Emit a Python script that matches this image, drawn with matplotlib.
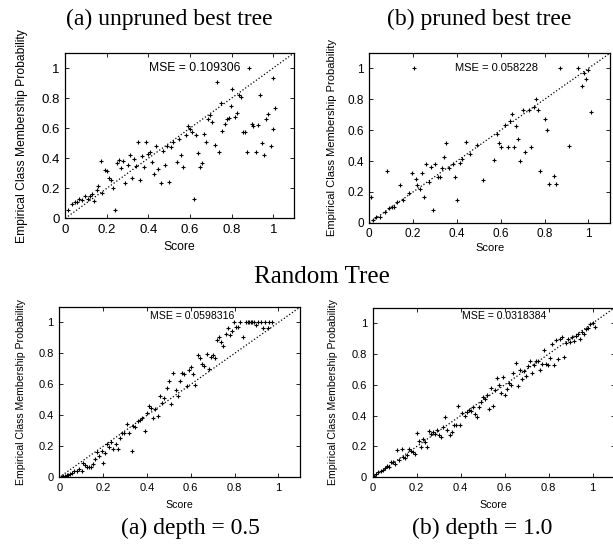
import matplotlib
matplotlib.use("Agg")
import matplotlib.pyplot as plt
from matplotlib.ticker import FixedLocator, FixedFormatter

plt.rcParams['font.family'] = ['Liberation Sans', 'DejaVu Sans']

# (a) unpruned best tree
score_a = [0.011, 0.03, 0.046, 0.058, 0.067, 0.082, 0.095, 0.107, 0.119, 0.13, 0.139, 0.151,
           0.159, 0.17, 0.178, 0.191, 0.199, 0.21, 0.22, 0.231, 0.239, 0.25, 0.258, 0.268,
           0.279, 0.288, 0.3, 0.311, 0.321, 0.33, 0.34, 0.349, 0.359, 0.37, 0.38, 0.388,
           0.396, 0.407, 0.418, 0.428, 0.438, 0.447, 0.458, 0.468, 0.478, 0.487, 0.498, 0.508,
           0.519, 0.538, 0.546, 0.558, 0.567, 0.579, 0.588, 0.599, 0.609, 0.619, 0.628, 0.638,
           0.647, 0.659, 0.668, 0.678, 0.688, 0.696, 0.707, 0.718, 0.728, 0.737, 0.747, 0.756,
           0.768, 0.777, 0.787, 0.796, 0.804, 0.814, 0.824, 0.835, 0.845, 0.856, 0.865, 0.875,
           0.885, 0.896, 0.905, 0.917, 0.926, 0.936, 0.946, 0.957, 0.966, 0.976, 0.987, 0.997,
           1.0, 1.008]
prob_a = [0.056, 0.097, 0.11, 0.106, 0.128, 0.119, 0.146, 0.128, 0.151, 0.164, 0.115, 0.191,
          0.213, 0.382, 0.169, 0.321, 0.317, 0.27, 0.258, 0.202, 0.056, 0.371, 0.389, 0.337,
          0.382, 0.236, 0.357, 0.422, 0.27, 0.393, 0.348, 0.506, 0.254, 0.416, 0.344, 0.506,
          0.427, 0.438, 0.375, 0.297, 0.483, 0.326, 0.236, 0.449, 0.353, 0.483, 0.243, 0.472,
          0.506, 0.375, 0.528, 0.422, 0.342, 0.555, 0.613, 0.596, 0.573, 0.128, 0.551, 0.434,
          0.344, 0.366, 0.562, 0.506, 0.663, 0.685, 0.64, 0.488, 0.91, 0.438, 0.764, 0.578,
          0.629, 0.663, 0.667, 0.748, 0.861, 0.674, 0.703, 0.82, 0.809, 0.573, 0.573, 0.438,
          1.0, 0.629, 0.613, 0.438, 0.618, 0.82, 0.501, 0.42, 0.663, 0.697, 0.483, 0.591,
          0.933, 0.735]

# (b) pruned best tree
score_b = [0.006, 0.018, 0.03, 0.049, 0.071, 0.082, 0.091, 0.102, 0.112, 0.125, 0.14, 0.152,
           0.182, 0.193, 0.204, 0.211, 0.22, 0.231, 0.242, 0.251, 0.261, 0.271, 0.281, 0.292,
           0.302, 0.312, 0.322, 0.333, 0.342, 0.351, 0.363, 0.383, 0.392, 0.401, 0.412, 0.422,
           0.441, 0.462, 0.492, 0.52, 0.571, 0.581, 0.591, 0.602, 0.62, 0.632, 0.641, 0.65,
           0.66, 0.67, 0.681, 0.69, 0.701, 0.71, 0.729, 0.74, 0.751, 0.761, 0.771, 0.781,
           0.801, 0.812, 0.821, 0.842, 0.851, 0.872, 0.912, 0.953, 0.971, 0.98, 0.991, 1.0,
           1.011]
prob_b = [0.168, 0.017, 0.039, 0.039, 0.071, 0.335, 0.093, 0.104, 0.104, 0.136, 0.244, 0.147,
          0.194, 0.32, 1.0, 0.281, 0.244, 0.222, 0.324, 0.168, 0.384, 0.266, 0.363, 0.082,
          0.384, 0.298, 0.298, 0.352, 0.428, 0.518, 0.358, 0.384, 0.294, 0.147, 0.389, 0.415,
          0.525, 0.445, 0.501, 0.276, 0.41, 0.575, 0.514, 0.488, 0.633, 0.488, 0.657, 0.708,
          0.492, 0.624, 0.54, 0.402, 0.728, 0.46, 0.728, 0.492, 0.752, 0.801, 0.732, 0.335,
          0.67, 0.6, 0.251, 0.302, 0.251, 1.0, 0.499, 1.0, 0.888, 0.972, 0.929, 0.989,
          0.719]

# Random Tree, depth = 0.5
score_c = [0.01, 0.018, 0.026, 0.033, 0.041, 0.048, 0.056, 0.067, 0.079, 0.09, 0.102, 0.11,
           0.119, 0.128, 0.137, 0.146, 0.155, 0.164, 0.174, 0.183, 0.193, 0.201, 0.21, 0.219,
           0.228, 0.237, 0.247, 0.257, 0.266, 0.277, 0.288, 0.297, 0.307, 0.32, 0.33, 0.338,
           0.347, 0.358, 0.368, 0.379, 0.39, 0.399, 0.409, 0.419, 0.429, 0.438, 0.449, 0.46,
           0.47, 0.479, 0.49, 0.501, 0.51, 0.521, 0.531, 0.54, 0.551, 0.562, 0.571, 0.581,
           0.591, 0.601, 0.612, 0.621, 0.632, 0.642, 0.651, 0.662, 0.673, 0.682, 0.693, 0.702,
           0.712, 0.721, 0.731, 0.74, 0.749, 0.76, 0.769, 0.778, 0.788, 0.798, 0.807, 0.816,
           0.825, 0.84, 0.852, 0.86, 0.868, 0.875, 0.882, 0.889, 0.898, 0.906, 0.919, 0.928,
           0.939, 0.951, 0.959, 0.97]
prob_c = [0.004, 0.006, 0.01, 0.014, 0.018, 0.024, 0.03, 0.041, 0.043, 0.052, 0.043, 0.095,
          0.08, 0.065, 0.065, 0.069, 0.086, 0.116, 0.166, 0.138, 0.172, 0.091, 0.155, 0.216,
          0.198, 0.231, 0.181, 0.216, 0.181, 0.252, 0.289, 0.284, 0.343, 0.289, 0.17, 0.332,
          0.323, 0.364, 0.371, 0.381, 0.302, 0.414, 0.461, 0.45, 0.381, 0.44, 0.397, 0.526,
          0.478, 0.509, 0.575, 0.625, 0.474, 0.672, 0.565, 0.526, 0.625, 0.672, 0.666, 0.591,
          0.694, 0.711, 0.668, 0.597, 0.787, 0.769, 0.733, 0.72, 0.797, 0.698, 0.776, 0.791,
          0.769, 0.884, 0.905, 0.877, 0.849, 0.927, 0.963, 0.92, 0.942, 1.0, 0.97, 0.974,
          1.0, 0.903, 1.0, 1.0, 1.0, 1.0, 1.0, 1.0, 0.985, 1.0, 1.0, 0.963,
          1.0, 0.963, 1.0, 1.0]

# Random Tree, depth = 1.0
score_d = [0.006, 0.015, 0.026, 0.036, 0.045, 0.056, 0.067, 0.076, 0.085, 0.094, 0.103, 0.112,
           0.121, 0.132, 0.139, 0.148, 0.158, 0.167, 0.176, 0.185, 0.194, 0.203, 0.212, 0.221,
           0.23, 0.239, 0.248, 0.258, 0.267, 0.276, 0.285, 0.294, 0.303, 0.312, 0.321, 0.33,
           0.339, 0.352, 0.361, 0.37, 0.379, 0.389, 0.398, 0.408, 0.418, 0.427, 0.436, 0.445,
           0.455, 0.464, 0.473, 0.482, 0.491, 0.5, 0.509, 0.518, 0.527, 0.538, 0.548, 0.558,
           0.567, 0.576, 0.585, 0.594, 0.603, 0.612, 0.621, 0.63, 0.639, 0.65, 0.659, 0.67,
           0.679, 0.688, 0.698, 0.708, 0.717, 0.726, 0.735, 0.744, 0.753, 0.761, 0.77, 0.779,
           0.788, 0.797, 0.806, 0.817, 0.826, 0.835, 0.844, 0.853, 0.862, 0.871, 0.88, 0.889,
           0.898, 0.908, 0.917, 0.926, 0.935, 0.944, 0.953, 0.962, 0.971, 0.98, 0.989, 1.0,
           1.009]
prob_d = [0.009, 0.022, 0.034, 0.043, 0.047, 0.058, 0.073, 0.069, 0.101, 0.101, 0.086, 0.177,
          0.112, 0.181, 0.134, 0.123, 0.144, 0.181, 0.172, 0.166, 0.151, 0.289, 0.235, 0.198,
          0.246, 0.231, 0.198, 0.302, 0.284, 0.295, 0.284, 0.306, 0.274, 0.259, 0.328, 0.388,
          0.31, 0.274, 0.295, 0.336, 0.341, 0.463, 0.338, 0.414, 0.397, 0.425, 0.435, 0.429,
          0.457, 0.409, 0.392, 0.457, 0.489, 0.522, 0.511, 0.532, 0.442, 0.578, 0.461, 0.567,
          0.647, 0.597, 0.547, 0.651, 0.532, 0.571, 0.614, 0.597, 0.679, 0.741, 0.591, 0.698,
          0.639, 0.69, 0.655, 0.724, 0.754, 0.677, 0.728, 0.754, 0.754, 0.694, 0.737, 0.828,
          0.733, 0.726, 0.776, 0.866, 0.731, 0.888, 0.769, 0.9, 0.909, 0.778, 0.869, 0.9,
          0.879, 0.909, 0.884, 0.916, 0.931, 0.9, 0.944, 0.931, 0.959, 0.97, 0.996, 1.0,
          0.974]

mse_labels = ["MSE = 0.109306", "MSE = 0.058228", "MSE = 0.0598316", "MSE = 0.0318384"]
tick_vals = [0, 0.2, 0.4, 0.6, 0.8, 1]
tick_text = ["0", "0.2", "0.4", "0.6", "0.8", "1"]

W, H = 613, 546
fig = plt.figure(figsize=(W / 100, H / 100), dpi=100)


def make_axes(left, top, width, height):
    # pixel box -> figure fraction
    return fig.add_axes([left / W, 1 - (top + height) / H, width / W, height / H])


panels = [
    # data, pixel box, tick size, label size, key pos, label coords
    (score_a, prob_a, (65.3, 53, 228.7, 165.3), 9.5, 8.7, (0.62, 1.0), mse_labels[0], -0.19, -0.175),
    (score_b, prob_b, (369.3, 53, 240.9, 169.8), 8.5, 8.0, (0.583, 1.0), mse_labels[1], -0.155, -0.15),
    (score_c, prob_c, (59.3, 307, 240.9, 170.3), 8.0, 7.6, (0.606, 1.043), mse_labels[2], -0.16, -0.163),
    (score_d, prob_d, (372.7, 307.7, 242, 169.6), 8.0, 7.6, (0.597, 1.043), mse_labels[3], -0.163, -0.163),
]

for xs, ys, box, tsize, lsize, kpos, key, ylx, xly in panels:
    ax = make_axes(*box)
    ax.plot([0, 1.1], [0, 1.1], color='black', linestyle=':', linewidth=0.9)
    ax.plot(xs, ys, linestyle='none', marker='+', markersize=3.5,
            markeredgewidth=0.8, color='black')
    ax.set_xlim(0, 1.1)
    ax.set_ylim(0, 1.1)
    for axis in (ax.xaxis, ax.yaxis):
        axis.set_major_locator(FixedLocator(tick_vals))
        axis.set_major_formatter(FixedFormatter(tick_text))
    ax.tick_params(direction='in', top=True, right=True, length=3, width=0.6,
                   labelsize=tsize, colors='black', pad=4)
    for sp in ax.spines.values():
        sp.set_linewidth(0.9)
    ax.text(kpos[0], kpos[1], key, ha='center', va='center', fontsize=lsize)
    ax.set_xlabel('Score', fontsize=lsize, va='center')
    ax.set_ylabel('Empirical Class Membership Probability', fontsize=lsize, va='center')
    ax.xaxis.set_label_coords(0.5, xly)
    ax.yaxis.set_label_coords(ylx, 0.5)

serif = ['Liberation Serif', 'DejaVu Serif']
fig.text(169 / W, 1 - 19 / H, "(a) unpruned best tree", ha='center', va='center',
         fontsize=17, family=serif)
fig.text(479.5 / W, 1 - 19 / H, "(b) pruned best tree", ha='center', va='center',
         fontsize=17, family=serif)
fig.text(321.5 / W, 1 - 277 / H, "Random Tree", ha='center', va='center',
         fontsize=18, family=serif)
fig.text(190.5 / W, 1 - 528 / H, "(a) depth = 0.5", ha='center', va='center',
         fontsize=17, family=serif)
fig.text(482 / W, 1 - 528 / H, "(b) depth = 1.0", ha='center', va='center',
         fontsize=17, family=serif)

fig.savefig("out.png", dpi=100)
